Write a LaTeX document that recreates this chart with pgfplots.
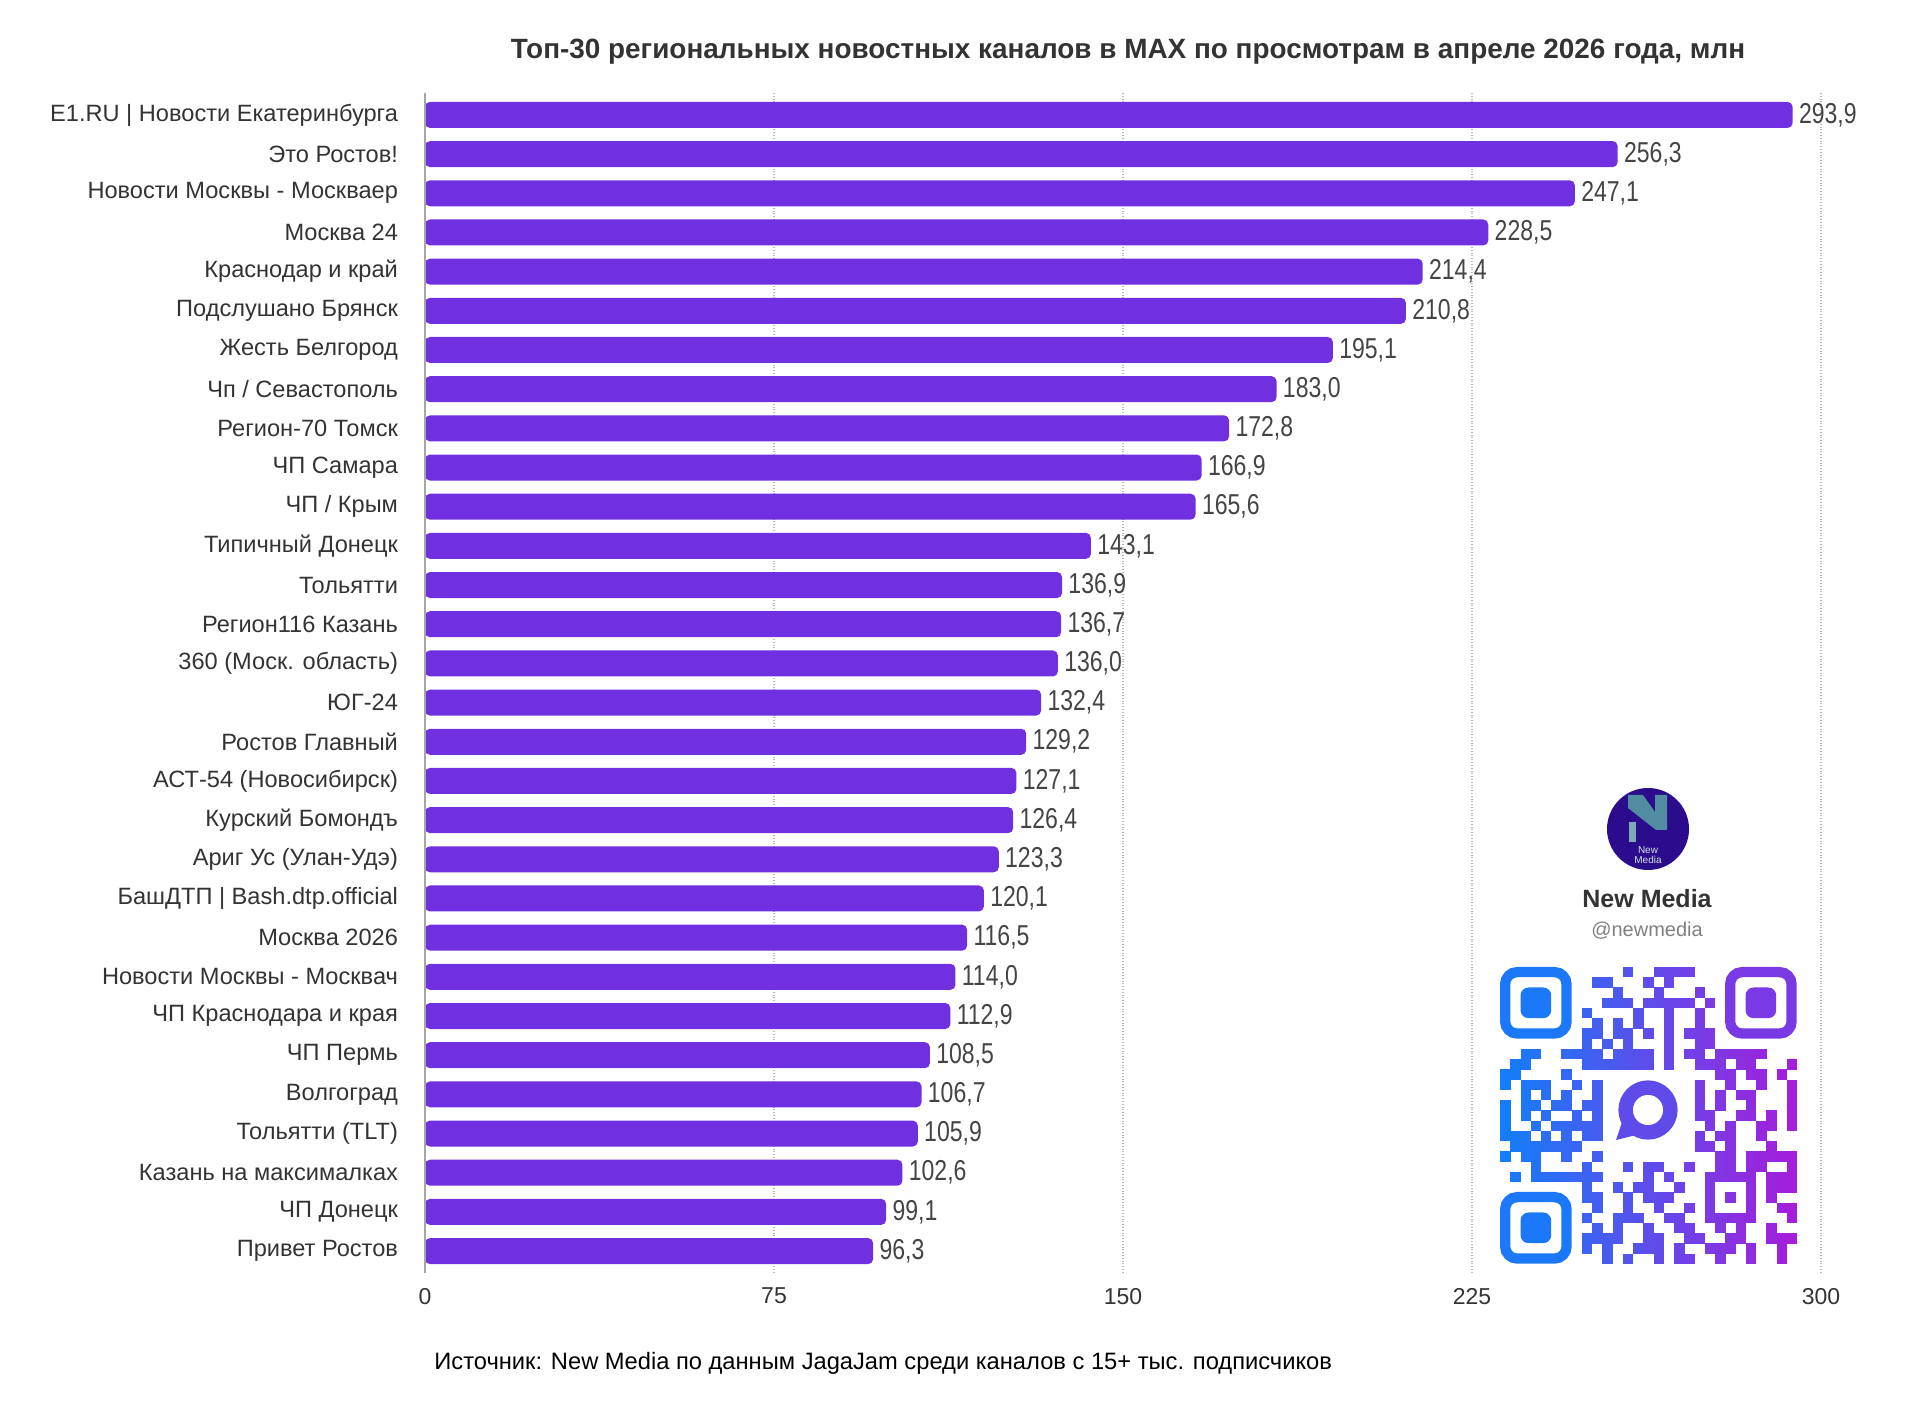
\documentclass[border=0pt]{standalone}
\usepackage{fontspec}
\setmainfont{Liberation Sans}
\newfontfamily\narrowfont[FakeStretch=0.8]{Liberation Sans}
\usepackage{pgfplots}
\usepackage{pgfplotstable}
\pgfplotsset{compat=1.18}
\definecolor{barc}{RGB}{112,48,224}
\definecolor{txt}{RGB}{51,51,51}
\definecolor{valc}{RGB}{68,68,68}
\definecolor{gridc}{RGB}{185,185,185}
\definecolor{qrA}{RGB}{20,125,250}
\definecolor{qrB}{RGB}{165,30,220}
\definecolor{logoc}{RGB}{42,12,140}
\definecolor{logoN}{RGB}{82,140,160}

\pgfplotstableread{
idx val
0 293.9
1 256.3
2 247.1
3 228.5
4 214.4
5 210.8
6 195.1
7 183.0
8 172.8
9 166.9
10 165.6
11 143.1
12 136.9
13 136.7
14 136.0
15 132.4
16 129.2
17 127.1
18 126.4
19 123.3
20 120.1
21 116.5
22 114.0
23 112.9
24 108.5
25 106.7
26 105.9
27 102.6
28 99.1
29 96.3
}\datatable

\begin{document}
\begin{tikzpicture}
\useasboundingbox (0,0) rectangle (960pt,711.5pt);
\begin{axis}[
  at={(212.5pt,75pt)}, anchor=south west,
  width=698pt, height=590pt, scale only axis,
  xbar, bar width=13pt,
  xmin=0, xmax=300,
  ymin=-0.56, ymax=29.56, y dir=reverse,
  xtick={0,75,150,225,300},
  ytick={0,...,29},
  yticklabels={E1.RU | Новости Екатеринбурга,Это Ростов!,Новости Москвы - Москваер,Москва 24,Краснодар и край,Подслушано Брянск,Жесть Белгород,Чп / Севастополь,Регион-70 Томск,ЧП Самара,ЧП / Крым,Типичный Донецк,Тольятти,Регион116 Казань,360 (Моск. область),ЮГ-24,Ростов Главный,АСТ-54 (Новосибирск),Курский Бомондъ,Ариг Ус (Улан-Удэ),БашДТП | Bash.dtp.official,Москва 2026,Новости Москвы - Москвач,ЧП Краснодара и края,ЧП Пермь,Волгоград,Тольятти (TLT),Казань на максималках,ЧП Донецк,Привет Ростов},
  axis line style={draw=none},
  major tick length=0pt,
  xmajorgrids,
  major grid style={densely dotted, gridc, line width=0.6pt},
  /pgf/number format/assume math mode=true,
  y tick label style={font=\fontsize{11.8}{14}\selectfont, text=txt, xshift=-10pt},
  x tick label style={font=\fontsize{11.5}{14}\selectfont, text=txt, yshift=-4pt},
  point meta=x,
  nodes near coords={\pgfmathprintnumber[fixed,fixed zerofill,precision=1,use comma]{\pgfplotspointmeta}},
  nodes near coords style={font=\narrowfont\fontsize{14.4}{16}\selectfont, text=valc, anchor=west, inner sep=1.5pt, xshift=1.5pt},
  clip=false,
]
\addplot[fill=barc, draw=none, rounded corners=2.5pt] table[x=val, y=idx] {\datatable};
\draw[gray!70, line width=0.8pt] (axis cs:0,-0.56) -- (axis cs:0,29.56);
\end{axis}

% title and source
\node[font=\bfseries\fontsize{13.95}{16}\selectfont, text=txt] at (564pt,685.5pt) {Топ-30 региональных новостных каналов в MAX по просмотрам в апреле 2026 года, млн};
\node[font=\fontsize{11.85}{14}\selectfont, text=black, anchor=west, inner sep=0pt] at (217pt,30pt) {Источник: New Media по данным JagaJam среди каналов с 15+ тыс. подписчиков};

% logo, name, QR
\begin{scope}[x=0.5pt,y=-0.5pt,shift={(0pt,711.5pt)}]
  \fill[logoc] (1648,829) circle[radius=20.5pt];
  \fill[logoN] (1628,795) -- (1643,795) -- (1655,812) -- (1655,795) -- (1667,795) -- (1667,830) -- (1656,830) -- (1628,808) -- cycle;
  \fill[logoN!75!white] (1629,822) rectangle (1636,842);
  \node[font=\fontsize{5}{5.2}\selectfont, text=white!75!logoN, align=center, inner sep=0pt] at (1648,855) {New\\Media};
  \node[font=\bfseries\fontsize{12.5}{14}\selectfont, text=txt] at (1647,899) {New Media};
  \node[font=\fontsize{10}{12}\selectfont, text=gray] at (1647,931) {@newmedia};
  % finder patterns
  \foreach \fx/\fy/\p in {1500/967/95, 1725/967/30, 1500/1192/95}{
    \draw[qrA!\p!qrB, line width=5.12pt, rounded corners=6pt] (\fx+5.12,\fy+5.12) rectangle (\fx+66.56,\fy+66.56);
    \fill[qrA!\p!qrB, rounded corners=4pt] (\fx+20.5,\fy+20.5) rectangle (\fx+51.2,\fy+51.2);
  }
  % modules
  \foreach \r/\cols in {
    0/{12,15,16,17,18},
    1/{9,10,14,16},
    2/{11,15,19},
    3/{10,11,12,14,15,16,17,18,20},
    4/{8,13,16,19},
    5/{9,11,13,16,19},
    6/{8,9,11,12,14,16,18,19,20},
    7/{8,10,12,16,19,20},
    8/{2,3,6,7,8,9,11,12,13,14,16,18,19,21,22,23,24,25},
    9/{1,2,8,9,10,11,12,13,14,16,19,20,21,23,24,28},
    10/{0,1,6,21,22,24,25,27},
    11/{0,2,3,4,7,9,19,22,25,28},
    12/{2,4,6,9,19,21,23,24,28},
    13/{0,2,3,5,6,8,9,19,21,24,28},
    14/{0,2,4,7,9,19,20,23,24,26,28},
    15/{0,3,5,6,7,8,9,20,22,25,26,28},
    16/{0,1,2,4,6,8,9,19,21,22,25},
    17/{1,2,3,4,5,6,7,19,20,22,26},
    18/{0,2,3,6,9,21,22,24,25,26,27,28},
    19/{3,8,12,14,15,18,21,22,24,25,28},
    20/{1,3,4,5,6,7,8,9,14,16,20,21,22,23,24,26,27,28},
    21/{8,11,13,14,17,20,24,26,27,28},
    22/{8,9,12,14,15,16,20,22,24,26},
    23/{9,12,15,18,20,24,27,28},
    24/{8,11,12,13,16,17,20,21,22,23,24,28},
    25/{9,11,14,17,18,21,23,26},
    26/{8,9,10,11,14,15,18,19,22,23,26,27,28},
    27/{8,10,13,14,15,17,20,21,22,24,27},
    28/{10,12,15,17,18,21,24,27}}{
    \foreach \c in \cols {
      \pgfmathsetmacro\p{100-\c*100/28}
      \fill[qrA!\p!qrB] (1500+\c*10.24,967+\r*10.24) rectangle ++(10.5,10.5);
    }
  }
  % center bubble
  \draw[qrA!48!qrB, line width=7.2pt] (1648,1110) circle[radius=11.2pt];
  \fill[qrA!48!qrB] (1622,1122) -- (1616,1140) -- (1640,1134) -- cycle;
\end{scope}
\end{tikzpicture}
\end{document}
